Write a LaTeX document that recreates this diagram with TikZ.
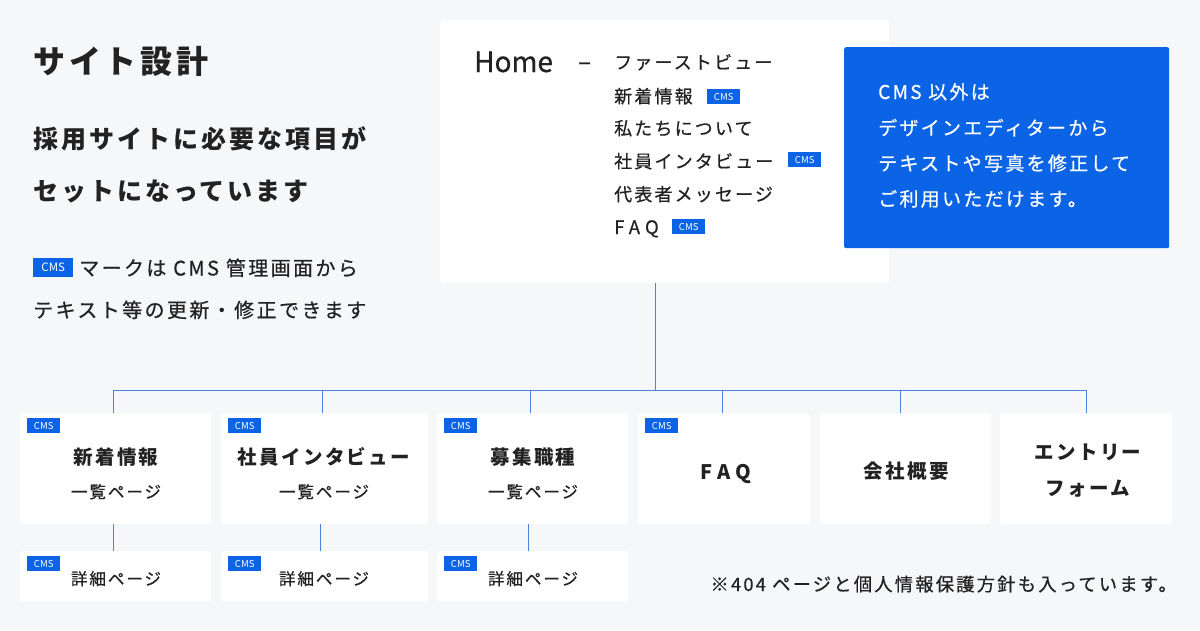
\documentclass[tikz,border=0pt]{standalone}
\usepackage{fontspec}
\setmainfont{Noto Sans CJK JP}[LetterSpace=12]
\newfontfamily\jpmed{Noto Sans CJK JP}[LetterSpace=12, FakeBold=0.6]
\newfontfamily\latinplain{Noto Sans CJK JP}
\newfontfamily\latinmed{Noto Sans CJK JP}[FakeBold=0.6]
\usetikzlibrary{positioning,calc}
\definecolor{pagebg}{HTML}{F6F7F9}
\definecolor{cmsblue}{HTML}{0B63E5}
\definecolor{linkblue}{HTML}{4A84E0}
\definecolor{inkdark}{HTML}{222222}

\begin{document}
\begin{tikzpicture}[x=1pt, y=-1pt,
  card/.style={rectangle, rounded corners=3pt, fill=white, inner sep=0pt, anchor=north west},
  badge/.style={rectangle, fill=cmsblue, text=white, inner sep=0pt, anchor=north west,
                minimum width=33pt, minimum height=15pt,
                font=\latinplain\fontsize{9.5}{9.5}\selectfont},
  link/.style={draw=linkblue, line width=1pt},
  txt/.style={inner sep=0pt, text=inkdark, anchor=base west, font=\jpmed\fontsize{#1}{#1}\selectfont},
  txtb/.style={inner sep=0pt, text=inkdark, anchor=base west, font=\bfseries\fontsize{#1}{#1}\selectfont},
  notetxt/.style={inner sep=0pt, text=white, anchor=base west, font=\jpmed\fontsize{19}{19}\selectfont},
  cardtitle/.style={inner sep=0pt, text=inkdark, anchor=base, font=\bfseries\fontsize{19.5}{19.5}\selectfont},
  cardsub/.style={inner sep=0pt, text=inkdark, anchor=base, font=\jpmed\fontsize{16.5}{16.5}\selectfont}
]
  % Page
  \fill[pagebg] (0,0) rectangle (1200,630);
  \useasboundingbox (0,0) rectangle (1200,630);

  % Heading and notes on the left
  \node[txtb=32] (title) at (33,73) {サイト設計};
  \node[txtb=25] (leadA) at (33,148.5) {採用サイトに必要な項目が};
  \node[txtb=25] (leadB) at (33,200.5) {セットになっています};
  \node[badge, minimum width=40pt, minimum height=19pt,
        font=\latinplain\fontsize{11.5}{11.5}\selectfont] (legendC) at (33,258) {CMS};
  \node[txt=20] (legendA) at (79,275.5) {マークは CMS 管理画面から};
  \node[txt=20] (legendB) at (33,317.5) {テキスト等の更新・修正できます};

  % Home page and its sections
  \node[card, minimum width=449pt, minimum height=263pt] (home) at (440,20) {};
  \node[inner sep=0pt, text=inkdark, anchor=base west,
        font=\latinmed\fontsize{28}{28}\selectfont] (homeL) at (474,72) {Home};
  \node[txt=24] (dash) at (578,70) {–};
  \node[txt=18] (secView) at (614,69) {ファーストビュー};
  \node[txt=18] (secNews) at (614,103) {新着情報};
  \node[badge] (secNewsC) at (707,89) {CMS};
  \node[txt=18] (secAbout) at (614,135) {私たちについて};
  \node[txt=18] (secVoice) at (614,168) {社員インタビュー};
  \node[badge] (secVoiceC) at (788,152) {CMS};
  \node[txt=18] (secMsg) at (614,201) {代表者メッセージ};
  \node[txt=18, font=\jpmed\fontsize{18.5}{18.5}\selectfont\addfontfeature{LetterSpace=28}] (secFaq) at (614,234) {FAQ};
  \node[badge] (secFaqC) at (672,219) {CMS};

  % Blue note
  \node[card, fill=cmsblue, rounded corners=2pt, minimum width=325pt, minimum height=201pt] (note) at (844,47) {};
  \node[notetxt] (noteA) at (878,99) {CMS 以外は};
  \node[notetxt] (noteB) at (878,135) {デザインエディターから};
  \node[notetxt] (noteC) at (878,170.5) {テキストや写真を修正して};
  \node[notetxt] (noteD) at (878,206) {ご利用いただけます。};

  % Lower pages
  \node[card, minimum width=191pt, minimum height=111pt] (news) at (20,413) {};
  \node[card, minimum width=207pt, minimum height=111pt] (voice) at (221,413) {};
  \node[card, minimum width=191pt, minimum height=111pt] (jobs) at (437,413) {};
  \node[card, minimum width=172pt, minimum height=111pt] (faq) at (638,413) {};
  \node[card, minimum width=171pt, minimum height=111pt] (company) at (820,413) {};
  \node[card, minimum width=172pt, minimum height=111pt] (entry) at (1000,413) {};

  \node[card, minimum width=191pt, minimum height=50pt] (newsD) at (20,551) {};
  \node[card, minimum width=207pt, minimum height=50pt] (voiceD) at (221,551) {};
  \node[card, minimum width=191pt, minimum height=50pt] (jobsD) at (437,551) {};

  % CMS marks
  \foreach \c in {news,voice,jobs,faq,newsD,voiceD,jobsD}
    \node[badge] (\c C) at ($(\c.north west)+(7,5)$) {CMS};

  % Card texts
  \node[cardtitle] (newsT) at (116,464.5) {新着情報};
  \node[cardsub] (newsS) at (116,498) {一覧ページ};
  \node[cardtitle] (voiceT) at (324,464.5) {社員インタビュー};
  \node[cardsub] (voiceS) at (324,498) {一覧ページ};
  \node[cardtitle] (jobsT) at (533,464.5) {募集職種};
  \node[cardsub] (jobsS) at (533,498) {一覧ページ};
  \node[cardtitle, font=\bfseries\fontsize{20}{20}\selectfont\addfontfeature{LetterSpace=26}] (faqT) at (726,479) {FAQ};
  \node[cardtitle] (companyT) at (906.5,478.5) {会社概要};
  \node[cardtitle] (entryT) at (1088,459.5) {エントリー};
  \node[cardtitle] (entryS) at (1088,495.5) {フォーム};
  \node[cardsub] (newsDT) at (116,585) {詳細ページ};
  \node[cardsub] (voiceDT) at (324,585) {詳細ページ};
  \node[cardsub] (jobsDT) at (533,585) {詳細ページ};

  % Connectors
  \coordinate (bus) at (655,390);
  \draw[link] (bus |- home.south) -- (bus);
  \draw[link] ($(news.north |- bus)+(-2,0)$) -- (entry.north |- bus);
  \foreach \c/\dx in {news/-2,voice/-2,jobs/-2,faq/-2,company/-5,entry/0}
    \draw[link] ($(\c.north |- bus)+(\dx,0)$) -- ($(\c.north)+(\dx,0)$);
  \draw[link] ($(news.south)+(-2,0)$) -- ($(newsD.north)+(-2,0)$);
  \draw[link] ($(voice.south)+(-4,0)$) -- ($(voiceD.north)+(-4,0)$);
  \draw[link] ($(jobs.south)+(-4,0)$) -- ($(jobsD.north)+(-4,0)$);

  % Footnote
  \node[inner sep=0pt, text=inkdark, anchor=base east,
        font=\jpmed\fontsize{18.3}{18.3}\selectfont] (foot) at (1177,591) {※404 ページと個人情報保護方針も入っています。};
\end{tikzpicture}
\end{document}
